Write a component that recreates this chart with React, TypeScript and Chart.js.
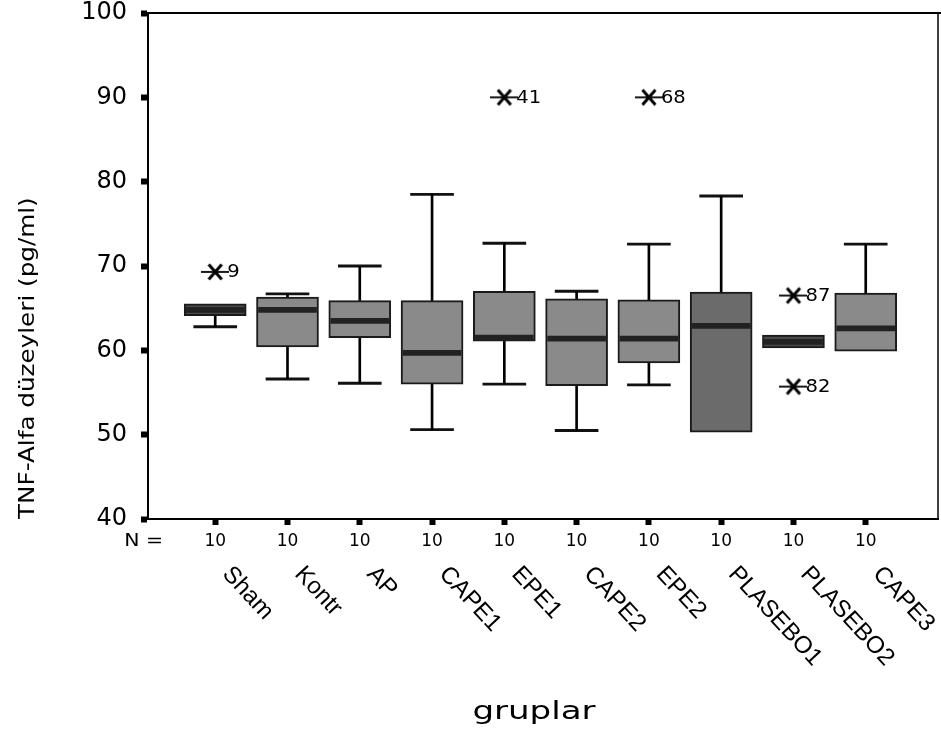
import React, { useEffect, useRef } from "react";
import { Chart, registerables } from "chart.js";

Chart.register(...registerables);

// ---- data ----
const categories = ["Sham", "Kontr", "AP", "CAPE1", "EPE1", "CAPE2", "EPE2", "PLASEBO1", "PLASEBO2", "CAPE3"];
const nValues = [10, 10, 10, 10, 10, 10, 10, 10, 10, 10];
const minVals = [62.8, 56.6, 56.1, 50.6, 56.0, 50.5, 55.9, 50.3, 60.3, 59.9];
const q1Vals = [64.1, 60.4, 61.5, 56.0, 61.1, 55.8, 58.5, 50.3, 60.3, 59.9];
const medianVals = [64.8, 64.8, 63.5, 59.7, 61.5, 61.4, 61.4, 62.9, 61.0, 62.6];
const q3Vals = [65.5, 66.3, 65.9, 65.9, 67.0, 66.1, 66.0, 66.9, 61.8, 66.8];
const maxVals = [65.5, 66.7, 70.0, 78.5, 72.7, 67.0, 72.6, 78.3, 61.8, 72.6];
const outlierGroups = [0, 4, 6, 8, 8];
const outlierValues = [69.3, 90.0, 90.0, 66.5, 55.7];
const outlierIds = ["9", "41", "68", "87", "82"];
const yTicks = [40, 50, 60, 70, 80, 90, 100];

const FONT = "'DejaVu Sans', 'Liberation Sans', Arial, sans-serif";
const LABEL_FONT = "'Liberation Sans', Arial, sans-serif";

function makeStar(): HTMLCanvasElement {
  const c = document.createElement("canvas");
  c.width = 28;
  c.height = 20;
  const g = c.getContext("2d")!;
  g.strokeStyle = "#000";
  g.lineWidth = 1.8;
  g.beginPath();
  g.moveTo(0, 10);
  g.lineTo(28, 10);
  g.stroke();
  g.lineWidth = 3;
  g.beginPath();
  g.moveTo(7.5, 2.5);
  g.lineTo(20.5, 17.5);
  g.moveTo(20.5, 2.5);
  g.lineTo(7.5, 17.5);
  g.stroke();
  return c;
}

function stretchedText(ctx: any, text: string, x: number, y: number, sx: number) {
  ctx.save();
  ctx.translate(x, y);
  ctx.scale(sx, 1);
  ctx.fillText(text, 0, 0);
  ctx.restore();
}

const decorPlugin = {
  id: "decor",
  afterDraw(chart: any) {
    const { ctx, chartArea } = chart;
    const xs = chart.scales.x;
    ctx.save();
    // frame (top and right)
    ctx.strokeStyle = "#000";
    ctx.lineWidth = 2;
    ctx.beginPath();
    ctx.moveTo(chartArea.left, chartArea.top);
    ctx.lineTo(941, chartArea.top);
    ctx.stroke();
    ctx.lineWidth = 1.5;
    ctx.beginPath();
    ctx.moveTo(chartArea.right, chartArea.top);
    ctx.lineTo(chartArea.right, chartArea.bottom);
    ctx.stroke();

    ctx.fillStyle = "#000";
    // y axis title
    ctx.save();
    ctx.translate(34, chartArea.bottom);
    ctx.rotate(-Math.PI / 2);
    ctx.font = `22px ${FONT}`;
    ctx.textAlign = "left";
    ctx.textBaseline = "alphabetic";
    stretchedText(ctx, "TNF-Alfa düzeyleri (pg/ml)", 0, 0, 1.12);
    ctx.restore();

    // N =
    ctx.save();
    ctx.font = `17px ${FONT}`;
    ctx.textAlign = "right";
    ctx.textBaseline = "middle";
    stretchedText(ctx, "N =", 163, 542, 1.2);
    ctx.restore();

    // rotated category labels
    ctx.save();
    ctx.font = `24px ${LABEL_FONT}`;
    ctx.textAlign = "left";
    ctx.textBaseline = "top";
    categories.forEach((c, i) => {
      const x = xs.getPixelForValue(i);
      ctx.save();
      ctx.translate(x + 20, 562);
      ctx.rotate(Math.PI / 4 + 0.04);
      ctx.fillText(c, 0, 0);
      ctx.restore();
    });
    ctx.restore();

    // x axis title
    ctx.save();
    ctx.font = `24px ${FONT}`;
    ctx.textAlign = "center";
    ctx.textBaseline = "alphabetic";
    stretchedText(ctx, "gruplar", 534, 719, 1.42);
    ctx.restore();

    // outlier labels
    const metaIdx = chart.data.datasets.findIndex((d: any) => d.label === "outliers");
    const meta = chart.getDatasetMeta(metaIdx);
    ctx.font = `17px ${FONT}`;
    ctx.textAlign = "left";
    ctx.textBaseline = "middle";
    meta.data.forEach((pt: any, i: number) => {
      stretchedText(ctx, outlierIds[i], pt.x + 12, pt.y + 1, 1.15);
    });
    ctx.restore();
  },
};

export default function App() {
  const ref = useRef<HTMLCanvasElement>(null);
  useEffect(() => {
    const star = makeStar();
    const idx = categories.map((_, i) => i);
    const boxColor = (c: any) =>
      c.dataIndex === 7 ? "#6b6b6b" : c.dataIndex === 0 || c.dataIndex === 8 ? "#4a4a4a" : "#8a8a8a";
    const chart = new Chart(ref.current!, {
      type: "bar",
      data: {
        datasets: [
          {
            label: "outliers",
            type: "scatter",
            data: outlierGroups.map((g, i) => ({ x: g, y: outlierValues[i] })),
            pointStyle: star as any,
            pointRadius: 10,
            order: 0,
          } as any,
          {
            label: "median",
            data: idx.map((i) => ({ x: i, y: [medianVals[i] - 0.3, medianVals[i] + 0.3] })),
            backgroundColor: "#222222",
            barThickness: 58,
            grouped: false,
            order: 1,
          },
          {
            label: "box",
            data: idx.map((i) => ({ x: i, y: [q1Vals[i], q3Vals[i]] })),
            backgroundColor: boxColor,
            borderColor: "#1a1a1a",
            borderWidth: 2,
            borderSkipped: false,
            barThickness: 62,
            grouped: false,
            order: 2,
          },
          {
            label: "upperStem",
            data: idx.map((i) => ({ x: i, y: maxVals[i] > q3Vals[i] ? [q3Vals[i], maxVals[i]] : null })),
            backgroundColor: "#000",
            barThickness: 2,
            grouped: false,
            order: 3,
          },
          {
            label: "lowerStem",
            data: idx.map((i) => ({ x: i, y: minVals[i] < q1Vals[i] ? [minVals[i], q1Vals[i]] : null })),
            backgroundColor: "#000",
            barThickness: 2,
            grouped: false,
            order: 3,
          },
          {
            label: "upperCap",
            data: idx.map((i) => ({ x: i, y: maxVals[i] > q3Vals[i] ? [maxVals[i] - 0.13, maxVals[i] + 0.13] : null })),
            backgroundColor: "#111",
            barThickness: 43,
            grouped: false,
            order: 3,
          },
          {
            label: "lowerCap",
            data: idx.map((i) => ({ x: i, y: minVals[i] < q1Vals[i] ? [minVals[i] - 0.13, minVals[i] + 0.13] : null })),
            backgroundColor: "#111",
            barThickness: 43,
            grouped: false,
            order: 3,
          },
        ] as any,
      },
      options: {
        animation: false,
        responsive: false,
        devicePixelRatio: 1,
        layout: { autoPadding: false, padding: { top: 13, right: 3, left: 0, bottom: 0 } },
        plugins: { legend: { display: false }, tooltip: { enabled: false } },
        scales: {
          x: {
            type: "linear",
            min: -0.93,
            max: 10,
            offset: false,
            afterBuildTicks: (s: any) => {
              s.ticks = categories.map((_, i) => ({ value: i }));
            },
            afterFit: (s: any) => {
              s.height = 734 - 519;
              s.paddingLeft = 0;
              s.paddingRight = 0;
            },
            ticks: {
              autoSkip: false,
              maxRotation: 0,
              minRotation: 0,
              padding: 6,
              color: "#000",
              font: { family: FONT, size: 17 },
              callback: (v: any) => String(nValues[Math.round(Number(v))] ?? ""),
            },
            grid: { drawOnChartArea: false, offset: false, tickLength: 6, tickWidth: 6, color: "#000" },
            border: { display: true, color: "#000", width: 2 },
          },
          y: {
            type: "linear",
            min: 40,
            max: 100,
            afterBuildTicks: (s: any) => {
              s.ticks = yTicks.map((v) => ({ value: v }));
            },
            afterFit: (s: any) => {
              s.width = 148;
              s.paddingTop = 0;
              s.paddingBottom = 0;
            },
            ticks: {
              padding: 14,
              color: "#000",
              font: { family: FONT, size: 24 },
            },
            grid: { drawOnChartArea: false, tickLength: 7, tickWidth: 6, color: "#000" },
            border: { display: true, color: "#000", width: 2 },
          },
        },
      } as any,
      plugins: [decorPlugin],
    });
    return () => chart.destroy();
  }, []);
  return (
    <div style={{ position: "absolute", left: 0, top: 0, width: 941, height: 734, background: "#fff" }}>
      <canvas ref={ref} width={941} height={734} style={{ display: "block" }} />
    </div>
  );
}
